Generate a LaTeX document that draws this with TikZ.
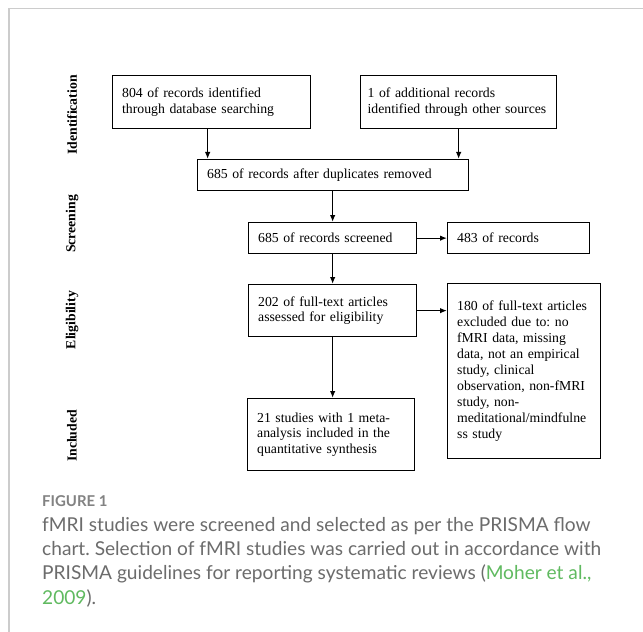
\documentclass[tikz,border=0pt]{standalone}
\usepackage{fontspec}
\setmainfont{Liberation Serif}
\newfontfamily\capfont{Lato}
\usepackage{xcolor}
\usepackage{tikz}
\usetikzlibrary{calc,backgrounds,arrows.meta}
\frenchspacing
\definecolor{capgray}{RGB}{108,108,108}
\definecolor{figgray}{RGB}{130,130,130}
\definecolor{linkgreen}{RGB}{96,186,96}
\definecolor{framegray}{RGB}{204,204,204}
\tikzstyle{boxtext} = [align=left, font=\fontsize{13.8}{16}\selectfont]
\tikzstyle{stage} = [rotate=90, inner sep=0pt, font=\fontsize{13.8}{16}\selectfont\bfseries]
\tikzset{
  x=1bp, y=1bp,
  % node styles
  rec/.style={boxtext, draw, line width=1.3bp, anchor=north west, inner xsep=9.5bp, inner ysep=0pt},
  caption/.style={anchor=base west, inner sep=0pt, align=left, text=capgray},
  % edge styles
  flow/.style={draw, line width=1.3bp, -{Latex[length=7bp,width=5.5bp]}},
}

\begin{document}
\begin{tikzpicture}
        \useasboundingbox (0,0) rectangle (643,-632);
        \fill[white] (0,0) rectangle (643,-632);
        \draw[framegray, line width=1.5bp] (643,-8.5) -- (9,-8.5) -- (9,-632);
        % Stages
        \node(S1)[stage] at (72,-115){Identification};
        \node(S2)[stage] at (72,-224){Screening};
        \node(S3)[stage] at (72,-320){Eligibility};
        \node(S4)[stage] at (72,-436){Included};
        % Identification
        \node(B1)[rec, text width=179bp, minimum height=53bp] at (112,-75)
            {804 of records identified\\through database searching};
        \node(B2)[rec, inner xsep=7bp, text width=182bp, minimum height=53bp] at (360,-75)
            {1 of additional records\\identified through other sources};
        \node(B3)[rec, text width=252bp, minimum height=31bp] at (197,-159)
            {685 of records after duplicates removed};
        % Screening
        \node(B4)[rec, text width=149bp, minimum height=31bp] at (248,-222)
            {685 of records screened};
        \node(B5)[rec, text width=123bp, minimum height=31bp] at (447,-222)
            {483 of records};
        % Eligibility
        \node(B6)[rec, text width=149bp, minimum height=52bp] at (248,-284)
            {202 of full-text articles\\assessed for eligibility};
        \node(B7)[rec, text width=134bp, minimum height=175bp] at (447,-283)
            {180 of full-text articles\\excluded due to: no\\fMRI data, missing\\data, not an empirical\\study, clinical\\observation, non-fMRI\\study, non-\\meditational/mindfulne\\ss study};
        % Included
        \node(B8)[rec, text width=148bp, minimum height=72bp] at (247,-398)
            {21 studies with 1 meta-\\analysis included in the\\quantitative synthesis};
        % Arrows
        \draw[flow] ([xshift=-4bp]B1.south) -- ([xshift=-4bp]B1.south |- B3.north);
        \draw[flow] (B2.south) -- (B2.south |- B3.north);
        \draw[flow] (B3.south -| B4.north) -- (B4.north);
        \draw[flow] (B4.east) -- (B5.west);
        \draw[flow] (B4.south) -- (B6.north);
        \draw[flow] (B6.east) -- (B6.east -| B7.west);
        \draw[flow] (B6.south) -- (B6.south |- B8.north);
        % Caption
        \node(F1)[caption, text=figgray, font=\capfont\bfseries\fontsize{15}{18}\selectfont] at (42,-506){FIGURE 1};
        \node(F2)[caption, font=\capfont\fontsize{19.2}{24.2}\selectfont] at (42,-604)
            {fMRI studies were screened and selected as per the PRISMA flow\\
             chart. Selection of fMRI studies was carried out in accordance with\\
             PRISMA guidelines for reporting systematic reviews (\textcolor{linkgreen}{Moher et al.,}\\
             \textcolor{linkgreen}{2009}).};
\end{tikzpicture}
\end{document}
